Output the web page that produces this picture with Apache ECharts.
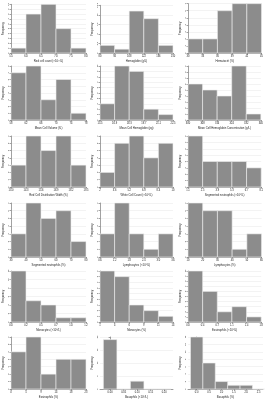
<!DOCTYPE html>
<html>
<head>
<meta charset="utf-8">
<script src="https://cdn.jsdelivr.net/npm/echarts@6/dist/echarts.min.js"></script>
<style>
  html, body { margin: 0; padding: 0; background: #fff; }
  #main { width: 266px; height: 400px; }
</style>
</head>
<body>
<div id="main"></div>
<script>
// panel titles (x axis names), row by row
const titles = [
  'Red cell count (×10¹²/L)', 'Hemoglobin (g/L)', 'Hematocrit (%)',
  'Mean Cell Volume (fL)', 'Mean Cell Hemoglobin (pg)', 'Mean Cell Hemoglobin Concentration (g/L)',
  'Red Cell Distribution Width (%)', 'White Cell Count (×10⁹/L)', 'Segmented neutrophils (×10⁹/L)',
  'Segmented neutrophils (%)', 'Lymphocytes (×10⁹/L)', 'Lymphocytes (%)',
  'Monocytes (×10⁹/L)', 'Monocytes (%)', 'Eosinophils (×10⁹/L)',
  'Eosinophils (%)', 'Basophils (×10⁹/L)', 'Basophils (%)'
];
// frequency per bin
const counts = [
  [1, 8, 10, 5, 1], [2, 1, 11, 9, 2], [2, 2, 6, 7, 7],
  [7, 8, 3, 6, 1], [3, 10, 9, 2, 1], [6, 5, 4, 9, 1],
  [3, 7, 5, 7, 3], [2, 6, 7, 4, 6], [8, 4, 4, 4, 3],
  [3, 7, 5, 6, 2], [3, 7, 3, 1, 3], [7, 6, 6, 1, 3],
  [12, 5, 4, 1, 1], [9, 8, 3, 2, 1], [10, 6, 2, 3, 1],
  [5, 7, 2, 4, 4], [19, 0, 3, 0, 0], [14, 7, 2, 1, 1, 0]
];
// x tick labels (bin edges, or bin centres for the last two)
const xTicks = [
  ['5.5', '6.0', '6.5', '7.0', '7.5', '8.0'], ['80', '94', '108', '122', '136', '150'], ['30', '33', '36', '39', '42', '45'],
  ['58', '62', '66', '70', '74', '78'], ['15.5', '16.9', '18.3', '19.7', '21.1', '22.5'], ['300', '308', '316', '324', '332', '340'],
  ['13.0', '14.3', '15.6', '16.9', '18.2', '19.5'], ['2', '3.6', '5.2', '6.8', '8.4', '10'], ['1.1', '2.5', '3.9', '5.3', '6.7', '8.1'],
  ['30', '40', '50', '60', '70', '80'], ['0.6', '1.2', '1.8', '2.4', '3.0', '3.6'], ['10', '20', '30', '40', '50', '60'],
  ['0.0', '0.2', '0.5', '0.7', '1.0', '1.2'], ['1', '4', '6', '9', '11', '14'], ['0.0', '0.4', '0.7', '1.1', '1.4', '1.8'],
  ['0', '5', '9', '14', '18', '23'], ['0.00', '0.05', '0.10', '0.15', '0.20'], ['0.0', '0.5', '1.0', '1.5', '2.0', '2.5']
];
const yMax = [10, 12.5, 7, 8, 10, 9, 7, 7, 8, 7, 7, 7, 12, 9, 10, 7, 20, 14];
const yStep = [1, 2.5, 1, 1, 1, 1, 1, 1, 1, 1, 1, 1, 2, 1, 1, 1, 5, 2];
const centred = [false, false, false, false, false, false, false, false, false,
  false, false, false, false, false, false, false, true, true];

// layout
const colLeft = [11, 100, 188];
const colWidth = [75, 73, 75];
const rowTop = [2, 66, 136, 203, 271, 337];
const rowBottom = [53, 120, 187, 257, 322, 389];

const font = 'Liberation Sans';
const grids = [], xAxes = [], yAxes = [], series = [];

titles.forEach((t, k) => {
  const r = Math.floor(k / 3), c = k % 3;
  grids.push({
    left: colLeft[c], top: rowTop[r],
    width: colWidth[c], height: rowBottom[r] - rowTop[r]
  });
  const labels = xTicks[k];
  const xa = {
    type: 'value', gridIndex: k,
    name: t, nameLocation: 'middle', nameGap: 7,
    nameTextStyle: { fontSize: 2.8, color: '#222', fontFamily: font },
    axisLine: { show: true, lineStyle: { color: '#444', width: 0.5 } },
    axisTick: { show: true, length: 1.5, lineStyle: { color: '#444', width: 0.5 } },
    splitLine: { show: false },
    axisLabel: {
      fontSize: 2.6, color: '#222', margin: 2, fontFamily: font,
      formatter: v => labels[Math.round(v)] || ''
    }
  };
  let data;
  if (centred[k]) {
    const n = labels.length;
    xa.min = k === 16 ? -0.75 : -0.7;
    xa.max = k === 16 ? n - 0.35 : n - 0.65;
    const idx = labels.map((_, i) => i);
    xa.axisLabel.customValues = idx;
    xa.axisTick.customValues = idx;
    data = counts[k].map((v, i) => [i - 0.5, i + 0.5, v]);
  } else {
    xa.min = 0;
    xa.max = labels.length - 1;
    xa.interval = 1;
    data = counts[k].map((v, i) => [i, i + 1, v]);
  }
  xAxes.push(xa);
  yAxes.push({
    type: 'value', gridIndex: k, min: 0, max: yMax[k], interval: yStep[k],
    name: 'Frequency', nameLocation: 'middle', nameGap: 6,
    nameTextStyle: { fontSize: 2.8, color: '#222', fontFamily: font },
    axisLine: { show: true, lineStyle: { color: '#444', width: 0.5 } },
    axisTick: { show: true, length: 1.5, lineStyle: { color: '#444', width: 0.5 } },
    splitLine: { show: true, lineStyle: { color: '#e6e6e6', width: 0.5 } },
    axisLabel: { fontSize: 2.4, color: '#222', margin: 2, rotate: 90, fontFamily: font }
  });
  series.push({
    type: 'custom', xAxisIndex: k, yAxisIndex: k,
    encode: { x: [0, 1], y: 2 },
    data: data,
    renderItem: (params, api) => {
      const top = api.coord([api.value(0), api.value(2)]);
      const bot = api.coord([api.value(1), 0]);
      return {
        type: 'rect',
        shape: { x: top[0], y: top[1], width: bot[0] - top[0], height: bot[1] - top[1] },
        style: { fill: '#8c8c8c', stroke: '#eeeeee', lineWidth: 0.6 }
      };
    }
  });
});

const chart = echarts.init(document.getElementById('main'), null, { renderer: 'canvas' });
chart.setOption({
  backgroundColor: '#fff',
  animation: false,
  grid: grids,
  xAxis: xAxes,
  yAxis: yAxes,
  series: series
});
window.addEventListener('resize', () => chart.resize(), false);
</script>
</body>
</html>
